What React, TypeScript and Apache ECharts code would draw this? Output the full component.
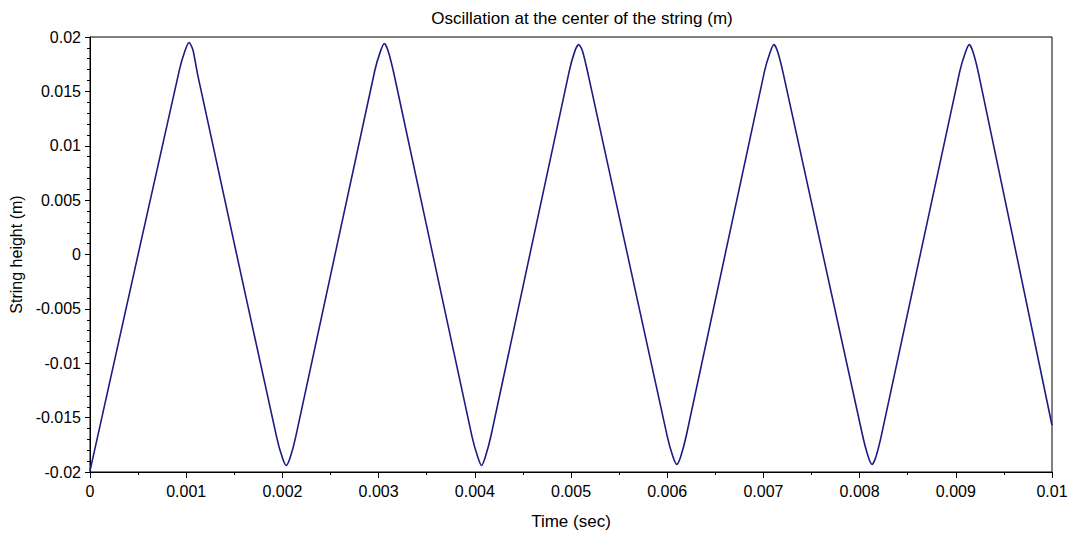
import React, { useEffect, useRef } from "react";
import * as echarts from "echarts";

const TITLE = "Oscillation at the center of the string (m)";
const X_NAME = "Time (sec)";
const Y_NAME = "String height (m)";

// time samples (s)
const timeSec = [
  0,
  0.00093, 0.00099, 0.00103, 0.00107, 0.00112,
  0.00194, 0.002, 0.00204, 0.00208, 0.00214,
  0.00296, 0.00302, 0.00306, 0.0031, 0.00316,
  0.00397, 0.00403, 0.00407, 0.00411, 0.00417,
  0.00498, 0.00504, 0.00508, 0.00512, 0.00518,
  0.006, 0.00606, 0.0061, 0.00614, 0.0062,
  0.00701, 0.00707, 0.00711, 0.00715, 0.00721,
  0.00803, 0.00809, 0.00813, 0.00817, 0.00823,
  0.00904, 0.0091, 0.00914, 0.00918, 0.00924,
  0.01,
];

// string height (m) at those times
const heightM = [
  -0.0199,
  0.017, 0.0188, 0.0195, 0.0188, 0.0165,
  -0.0168, -0.0187, -0.0194, -0.0187, -0.0167,
  0.0169, 0.0187, 0.0194, 0.0187, 0.0166,
  -0.0167, -0.0186, -0.0194, -0.0186, -0.0166,
  0.0168, 0.0187, 0.0193, 0.0187, 0.0165,
  -0.0167, -0.0186, -0.0193, -0.0186, -0.0166,
  0.0168, 0.0186, 0.0193, 0.0186, 0.0165,
  -0.0166, -0.0186, -0.0193, -0.0186, -0.0165,
  0.0168, 0.0186, 0.0193, 0.0186, 0.0165,
  -0.0157,
];

const fmt = (v: number) => String(+v.toFixed(4));

export default function App() {
  const ref = useRef<HTMLDivElement>(null);
  useEffect(() => {
    if (!ref.current) return;
    const chart = echarts.init(ref.current, null, { renderer: "svg" });
    const data = timeSec.map((t, i) => [t, heightM[i]]);
    const font = "'Liberation Sans', Arial, sans-serif";
    chart.setOption({
      animation: false,
      backgroundColor: "#ffffff",
      title: {
        text: TITLE,
        left: 577,
        top: 5,
        textAlign: "center",
        textStyle: { fontFamily: font, fontSize: 17, fontWeight: "normal", color: "#000" },
      },
      grid: {
        left: 90,
        right: 26,
        top: 37,
        bottom: 64,
        show: true,
        borderColor: "#000",
        borderWidth: 1,
        backgroundColor: "#fff",
      },
      xAxis: {
        type: "value",
        min: 0,
        max: 0.01,
        interval: 0.001,
        name: X_NAME,
        nameLocation: "middle",
        nameGap: 41,
        nameTextStyle: { fontFamily: font, fontSize: 17, color: "#000" },
        axisLine: { show: true, onZero: false, lineStyle: { color: "#000", width: 1 } },
        axisTick: { show: true, length: 6, inside: false, lineStyle: { color: "#000" } },
        minorTick: { show: true, splitNumber: 2, length: 3, lineStyle: { color: "#000" } },
        splitLine: { show: false },
        axisLabel: {
          fontFamily: font,
          fontSize: 16,
          color: "#000",
          margin: 11,
          formatter: fmt,
        },
      },
      yAxis: {
        type: "value",
        min: -0.02,
        max: 0.02,
        interval: 0.005,
        name: Y_NAME,
        nameLocation: "middle",
        nameGap: 63,
        nameRotate: 90,
        nameTextStyle: { fontFamily: font, fontSize: 16, color: "#000" },
        axisLine: { show: true, onZero: false, lineStyle: { color: "#000", width: 1 } },
        axisTick: { show: true, length: 5, inside: false, lineStyle: { color: "#000" } },
        minorTick: { show: true, splitNumber: 5, length: 3, lineStyle: { color: "#000" } },
        splitLine: { show: false },
        axisLabel: {
          fontFamily: font,
          fontSize: 16,
          color: "#000",
          margin: 9,
          formatter: fmt,
        },
      },
      series: [
        {
          type: "line",
          data,
          showSymbol: false,
          smooth: 0.25,
          lineStyle: { color: "#1c1c80", width: 1.6 },
          itemStyle: { color: "#1c1c80" },
        },
      ],
    });
    return () => chart.dispose();
  }, []);
  return (
    <div
      ref={ref}
      style={{ position: "fixed", left: 0, top: 0, width: 1078, height: 536, background: "#fff" }}
    />
  );
}
